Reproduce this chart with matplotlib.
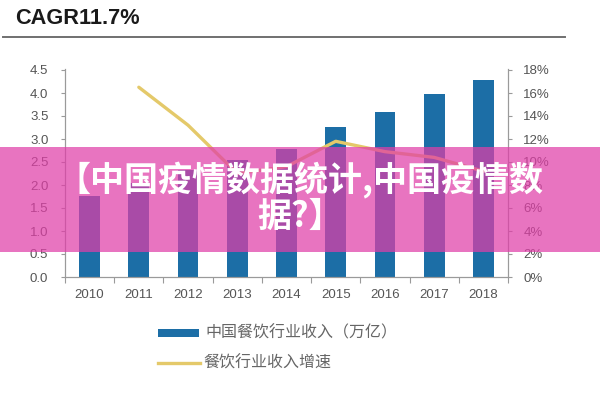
import numpy as np
import matplotlib.pyplot as plt
from matplotlib.patches import Rectangle
from matplotlib.lines import Line2D

# data
years = ["2010", "2011", "2012", "2013", "2014", "2015", "2016", "2017", "2018"]
revenue = [1.77, 2.05, 2.33, 2.54, 2.79, 3.25, 3.59, 3.98, 4.28]   # 万亿
growth_years = ["2011", "2012", "2013", "2014", "2015", "2016", "2017", "2018"]
growth = [16.5, 13.2, 9.0, 9.6, 11.8, 10.9, 10.4, 9.2]              # %

bar_label = "中国餐饮行业收入（万亿）"
line_label = "餐饮行业收入增速"
banner_lines = ["【中国疫情数据统计,中国疫情数", "据?】"]

blue = "#1c6ea6"
yellow = "#e4c96a"
grey = "#555555"
spine_c = "#9a9a9a"

fig = plt.figure(figsize=(6, 4), dpi=100)
ax = fig.add_axes([65 / 600, 1 - 277 / 400, (508 - 65) / 600, (277 - 69) / 400])

x = np.arange(len(years))
ax.bar(x, revenue, width=0.42, color=blue, zorder=2)
ax.set_xlim(-0.5, len(years) - 0.5)
ax.set_ylim(0, 4.5 * 208 / 207)
ax.set_yticks(np.arange(0, 4.51, 0.5))
ax.set_yticklabels(["%.1f" % v for v in np.arange(0, 4.51, 0.5)])

# tick marks between categories, labels under the bars
ax.set_xticks(np.arange(-0.5, len(years), 1.0))
ax.set_xticklabels([])
ax.set_xticks(x, minor=True)
ax.set_xticklabels(years, minor=True)
ax.tick_params(axis="x", which="major", length=4, color=spine_c)
ax.tick_params(axis="x", which="minor", length=0, pad=9, labelsize=9.5,
               labelcolor=grey)
ax.tick_params(axis="y", length=3, color=spine_c, pad=9, labelsize=9.5,
               labelcolor=grey)
for lab in ax.get_xticklabels(minor=True) + ax.get_yticklabels():
    lab.set_fontfamily("Liberation Sans")

ax.spines["top"].set_visible(False)
for s in ["left", "bottom", "right"]:
    ax.spines[s].set_color(spine_c)

ax2 = ax.twinx()
gx = [years.index(y) for y in growth_years]
ax2.plot(gx, growth, color=yellow, lw=2.4, solid_capstyle="round",
         solid_joinstyle="round", zorder=3)
ax2.set_ylim(0, 18 * 208 / 207)
ax2.set_yticks(np.arange(0, 19, 2))
ax2.set_yticklabels(["%d%%" % v for v in np.arange(0, 19, 2)])
ax2.tick_params(axis="y", length=3, color=spine_c, pad=8, labelsize=9.5,
                labelcolor=grey)
for lab in ax2.get_yticklabels():
    lab.set_fontfamily("Liberation Sans")
ax2.spines["top"].set_visible(False)
for s in ["left", "bottom", "right"]:
    ax2.spines[s].set_color(spine_c)

# title and rule
fig.text(15 / 600, 1 - 19 / 400, "CAGR11.7%", fontsize=15.7, fontweight="bold",
         family="Liberation Sans", color="#1a1a1a", va="center", ha="left")
fig.add_artist(Line2D([3 / 600, 565 / 600], [1 - 37 / 400] * 2, color="#707070",
                      lw=1.4))

# legend drawn by hand
cjk = ["Noto Sans CJK SC", "DejaVu Sans"]
fig.patches.append(Rectangle((158 / 600, 1 - 337 / 400), 41 / 600, 8 / 400,
                             transform=fig.transFigure, facecolor=blue, lw=0))
fig.text(205 / 600, 1 - 333 / 400, bar_label, fontsize=11.5, family=cjk,
         color="#666666", va="center", ha="left")
fig.add_artist(Line2D([158 / 600, 200 / 600], [1 - 363 / 400] * 2,
                      color=yellow, lw=2.4))
fig.text(203 / 600, 1 - 363 / 400, line_label, fontsize=11.5, family=cjk,
         color="#666666", va="center", ha="left")

# pink banner overlay
fig.patches.append(Rectangle((0, 1 - 252 / 400), 1, 105 / 400,
                             transform=fig.transFigure, facecolor="#e03ea8",
                             lw=0, alpha=0.72, zorder=5))
fig.text(0.5, 1 - 180 / 400, banner_lines[0], fontsize=24.5, fontweight="bold",
         family=cjk, color="white", ha="center", va="center", zorder=6)
fig.text(0.5, 1 - 216 / 400, banner_lines[1], fontsize=24.5, fontweight="bold",
         family=cjk, color="white", ha="center", va="center", zorder=6)

fig.savefig("out.png", dpi=100)
